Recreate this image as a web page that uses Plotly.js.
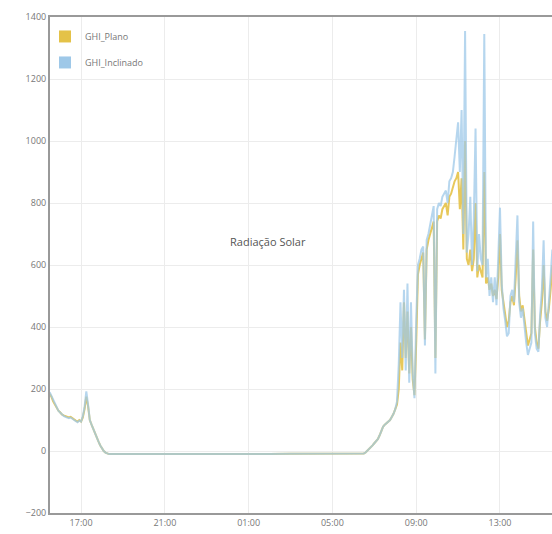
<!DOCTYPE html>
<html>
<head>
<meta charset="utf-8">
<script src="https://cdn.plot.ly/plotly-3.0.1.min.js"></script>
<style>
html,body{margin:0;padding:0;background:#fff;overflow:hidden;}
#chart{width:552px;height:534px;}
</style>
</head>
<body>
<div id="chart"></div>
<script>
// Times (HH:MM) for day 1 and day 2
const day1Date = "2023-06-01";
const day2Date = "2023-06-02";
const day1Times = ["15:30","15:35","15:40","15:45","15:50","15:55","16:00","16:05","16:10","16:15","16:20","16:25","16:30","16:35","16:40","16:45","16:50","16:55","17:00","17:05","17:10","17:15","17:20","17:25","17:30","17:35","17:40","17:45","17:50","17:55","18:00","18:05","18:10","18:15","18:20","18:30","19:00","20:00","21:00","22:00","23:00"];
const day2Times = ["00:00","01:00","02:00","03:00","04:00","05:00","06:00","06:30","06:35","06:40","06:45","06:50","06:55","07:00","07:05","07:10","07:15","07:20","07:25","07:30","07:35","07:40","07:45","07:50","07:55","08:00","08:05","08:10","08:15","08:20","08:25","08:30","08:35","08:40","08:45","08:50","08:55","09:00","09:05","09:10","09:15","09:20","09:25","09:30","09:35","09:40","09:45","09:50","09:55","10:00","10:05","10:10","10:15","10:20","10:25","10:30","10:35","10:40","10:45","10:50","10:55","11:00","11:05","11:10","11:15","11:20","11:25","11:30","11:35","11:40","11:45","11:50","11:55","12:00","12:05","12:10","12:15","12:20","12:25","12:30","12:35","12:40","12:45","12:50","12:55","13:00","13:05","13:10","13:15","13:20","13:25","13:30","13:35","13:40","13:45","13:50","13:55","14:00","14:05","14:10","14:15","14:20","14:25","14:30","14:35","14:40","14:45","14:50","14:55","15:00","15:05","15:10","15:15","15:20","15:25","15:30"];

// GHI_Plano (W/m²)
const ghiPlanoDay1 = [185,175,160,150,140,130,125,118,115,112,110,108,110,105,100,98,95,100,95,108,135,175,145,100,85,70,55,42,30,18,8,0,-5,-8,-10,-10,-10,-11,-12,-12,-12];
const ghiPlanoDay2 = [-12,-11,-10,-9,-9,-9,-9,-8,-5,0,5,12,18,25,30,38,50,65,78,85,90,95,100,110,120,135,150,200,350,260,480,300,450,250,400,230,180,350,570,600,620,640,360,650,680,700,720,740,300,740,760,750,780,790,800,760,820,830,850,870,880,900,780,880,650,1000,620,600,650,580,620,800,560,600,580,560,900,540,560,520,540,500,520,490,560,700,520,480,440,400,420,480,500,470,560,680,500,450,470,420,380,340,360,380,650,400,350,330,420,480,600,450,420,460,520,600];

// GHI_Inclinado (W/m²)
const ghiInclDay1 = [190,178,162,150,140,130,124,117,113,110,108,106,108,103,98,96,93,98,95,112,142,192,150,100,85,70,55,42,30,18,8,0,-5,-8,-10,-10,-10,-11,-12,-12,-12];
const ghiInclDay2 = [-12,-11,-10,-9,-9,-9,-9,-8,-5,0,5,12,18,25,30,38,50,65,78,85,90,95,100,110,120,135,160,280,480,300,520,260,540,220,480,250,170,420,600,620,650,660,340,680,700,730,760,790,250,780,800,790,820,830,840,800,870,880,900,950,1000,1060,900,1100,700,1355,640,700,820,600,750,1040,580,700,620,600,1345,560,620,500,560,480,560,470,620,785,540,460,420,370,380,500,520,480,620,760,480,430,460,400,350,310,330,350,740,380,330,320,440,520,680,430,400,470,560,650];

const ghiPlanoName = "GHI_Plano";
const ghiInclName = "GHI_Inclinado";
const annotationText = "Radiação Solar";

const xs = day1Times.map(t => day1Date + " " + t).concat(day2Times.map(t => day2Date + " " + t));
const yPlano = ghiPlanoDay1.concat(ghiPlanoDay2);
const yIncl = ghiInclDay1.concat(ghiInclDay2);

const yellow = "rgb(228,194,72)";
const blue = "rgb(158,200,232)";

const traces = [
  {x: xs, y: yPlano, type: "scatter", mode: "lines", name: ghiPlanoName, showlegend: false,
   line: {color: yellow, width: 2}, opacity: 0.9, hoverinfo: "x+y"},
  {x: xs, y: yIncl, type: "scatter", mode: "lines", name: ghiInclName, showlegend: false,
   line: {color: blue, width: 2}, opacity: 0.75, hoverinfo: "x+y"},
  {x: [null], y: [null], type: "scatter", mode: "markers", name: ghiPlanoName, showlegend: true,
   legendgroup: "a", marker: {symbol: "square", size: 12, color: yellow}},
  {x: [null], y: [null], type: "scatter", mode: "markers", name: ghiInclName, showlegend: true,
   legendgroup: "b", marker: {symbol: "square", size: 12, color: blue}}
];

const layout = {
  width: 552, height: 534,
  margin: {l: 50, r: 0, t: 17, b: 21, pad: 0},
  paper_bgcolor: "#fff", plot_bgcolor: "#fff",
  font: {family: "Open Sans, Arial, sans-serif", size: 9, color: "#777"},
  xaxis: {
    type: "date",
    range: ["2023-06-01 15:31", "2023-06-02 15:29"],
    tick0: "2023-06-01 01:00", dtick: 4 * 3600 * 1000,
    tickformat: "%H:%M",
    showgrid: true, gridcolor: "#ececec", gridwidth: 1,
    showline: true, linecolor: "#999", linewidth: 2, mirror: true,
    ticks: "", zeroline: false,
    tickfont: {size: 9, color: "#777"}
  },
  yaxis: {
    range: [-200, 1400], dtick: 200,
    showgrid: true, gridcolor: "#ececec", gridwidth: 1,
    showline: true, linecolor: "#999", linewidth: 2,
    ticks: "", zeroline: false,
    tickfont: {size: 9, color: "#777"}
  },
  legend: {x: -0.01, y: 0.99, xanchor: "left", yanchor: "top", bgcolor: "rgba(0,0,0,0)",
           font: {size: 9, color: "#777"}, itemwidth: 30,
           traceorder: "grouped", tracegroupgap: 7},
  showlegend: true,
  annotations: [{
    text: annotationText, xref: "paper", yref: "paper", x: 0.434, y: 0.548,
    showarrow: false, font: {size: 11, color: "#555"}
  }]
};

Plotly.newPlot("chart", traces, layout, {displayModeBar: false, staticPlot: true});
</script>
</body>
</html>
